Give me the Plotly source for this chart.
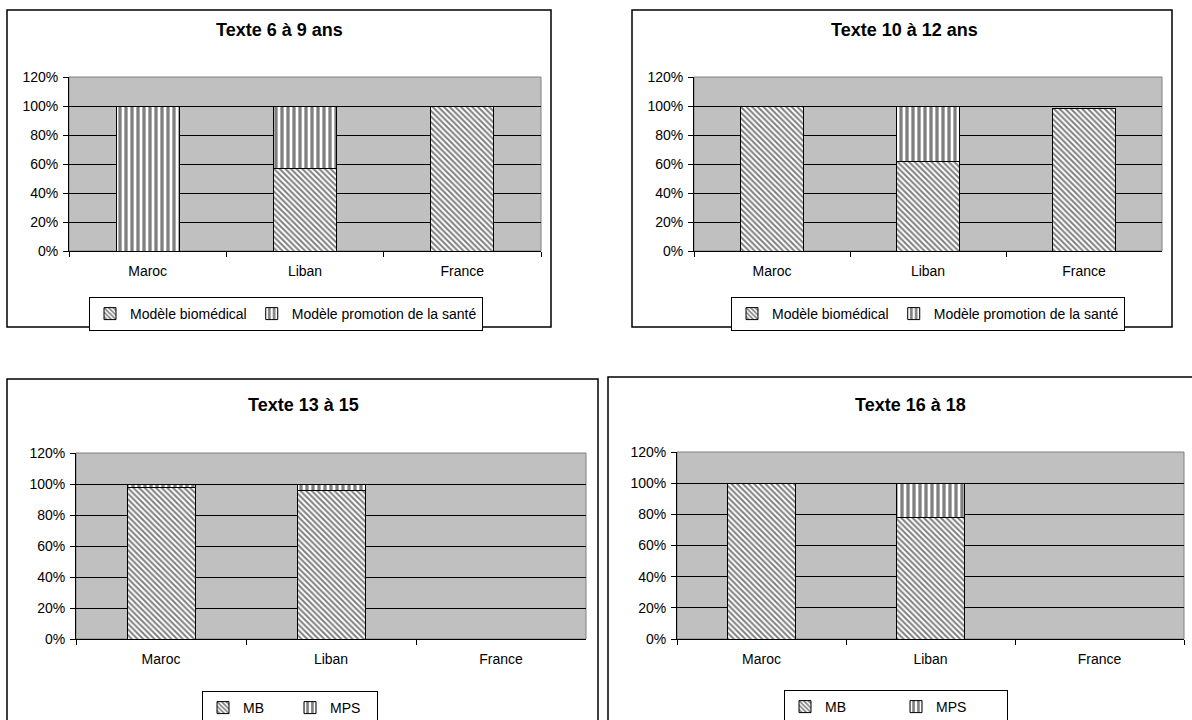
import plotly.graph_objects as go

# ---------------- data ----------------
categories = ["Maroc", "Liban", "France"]

titles = ["Texte 6 à 9 ans", "Texte 10 à 12 ans", "Texte 13 à 15", "Texte 16 à 18"]

mb_1 = [0.0, 0.57, 1.00]
mps_1 = [1.00, 0.43, 0.0]

mb_2 = [1.00, 0.62, 0.98]
mps_2 = [0.0, 0.38, 0.0]

mb_3 = [0.98, 0.96, None]
mps_3 = [0.02, 0.04, None]

mb_4 = [1.00, 0.78, None]
mps_4 = [0.0, 0.22, None]

names_long = ["Modèle biomédical", "Modèle promotion de la santé"]
names_short = ["MB", "MPS"]

y_ticks = [0, 0.2, 0.4, 0.6, 0.8, 1.0, 1.2]

# ---------------- layout geometry (pixels) ----------------
W, H = 1192, 720
FONT = "Liberation Sans, Arial, sans-serif"

panels = [
    dict(plot=(69, 541, 77, 251), box=(7, 551, 10, 327), title_xy=(279, 30),
         legend_xy=(286, 297), mb=mb_1, mps=mps_1, names=names_long, entry=None),
    dict(plot=(694, 1162, 77, 251), box=(632, 1172, 10, 327), title_xy=(904, 30),
         legend_xy=(928, 297), mb=mb_2, mps=mps_2, names=names_long, entry=None),
    dict(plot=(76, 586, 453, 639), box=(7, 598, 379, 730), title_xy=(303, 405),
         legend_xy=(290, 691), mb=mb_3, mps=mps_3, names=names_short, entry=42),
    dict(plot=(677, 1184, 452, 639), box=(608, 1200, 377, 730), title_xy=(910, 405),
         legend_xy=(896, 690), mb=mb_4, mps=mps_4, names=names_short, entry=66),
]


def px(x):
    return x / W


def py(y):
    return 1 - y / H


fig = go.Figure()
shapes = []
annotations = []
layout_extra = {}

for i, p in enumerate(panels):
    n = i + 1
    xa = "x" if n == 1 else f"x{n}"
    ya = "y" if n == 1 else f"y{n}"
    lg = "legend" if n == 1 else f"legend{n}"

    fig.add_trace(go.Bar(
        x=categories, y=p["mb"], name=p["names"][0],
        xaxis=xa, yaxis=ya, legend=lg,
        marker=dict(color="white", line=dict(color="black", width=1),
                    pattern=dict(shape="\\", fgcolor="black", bgcolor="white",
                                 size=4, solidity=0.5)),
        hoverinfo="skip",
    ))
    fig.add_trace(go.Bar(
        x=categories, y=p["mps"], name=p["names"][1],
        xaxis=xa, yaxis=ya, legend=lg,
        marker=dict(color="white", line=dict(color="black", width=1),
                    pattern=dict(shape="|", fgcolor="black", bgcolor="white",
                                 size=6, solidity=0.55)),
        hoverinfo="skip",
    ))

    x0, x1, y0, y1 = p["plot"]
    xkey = "xaxis" if n == 1 else f"xaxis{n}"
    ykey = "yaxis" if n == 1 else f"yaxis{n}"
    layout_extra[xkey] = dict(
        domain=[px(x0), px(x1)], anchor=ya, type="category",
        categoryorder="array", categoryarray=categories,
        range=[-0.5, 2.5], showgrid=False, showline=True, linecolor="black",
        linewidth=1, ticks="outside", tickson="boundaries", ticklen=5,
        tickcolor="black", tickfont=dict(family=FONT, size=14, color="black"),
        ticklabelstandoff=7, fixedrange=True, automargin=False,
    )
    layout_extra[ykey] = dict(
        domain=[py(y1), py(y0)], anchor=xa, range=[0, 1.2],
        tickvals=y_ticks, tickformat=".0%", showgrid=True, gridcolor="black",
        gridwidth=1, zeroline=False, showline=True, linecolor="black",
        linewidth=1, ticks="outside", ticklen=5, tickcolor="black",
        tickfont=dict(family=FONT, size=14, color="black"), fixedrange=True,
        ticklabelstandoff=2, automargin=False,
    )
    lx, ly = p["legend_xy"]
    leg = dict(
        x=px(lx), y=py(ly), xanchor="center", yanchor="top", orientation="h",
        bordercolor="black", borderwidth=1, bgcolor="white",
        font=dict(family=FONT, size=14, color="black"), traceorder="normal",
        itemwidth=30, tracegroupgap=0, itemclick=False, itemdoubleclick=False,
    )
    if p["entry"]:
        leg["entrywidth"] = p["entry"]
        leg["entrywidthmode"] = "pixels"
    layout_extra[lg] = leg

    # gray border of plot area (top/right)
    shapes.append(dict(type="rect", xref=f"{xa} domain", yref=f"{ya} domain",
                       x0=0, x1=1, y0=0, y1=1, line=dict(color="#808080", width=1),
                       layer="below"))
    # outer chart border
    bx0, bx1, by0, by1 = p["box"]
    shapes.append(dict(type="rect", xref="paper", yref="paper",
                       x0=px(bx0), x1=px(bx1), y0=py(by1), y1=py(by0),
                       line=dict(color="black", width=1.5), layer="below"))
    tx, ty = p["title_xy"]
    annotations.append(dict(text=f"<b>{titles[i]}</b>", xref="paper", yref="paper",
                            x=px(tx), y=py(ty), xanchor="center", yanchor="middle",
                            showarrow=False,
                            font=dict(family=FONT, size=18, color="black")))

fig.update_layout(
    width=W, height=H, autosize=False,
    margin=dict(l=0, r=0, t=0, b=0, pad=0, autoexpand=False),
    paper_bgcolor="white", plot_bgcolor="#C0C0C0",
    barmode="stack", bargap=0.6,
    showlegend=True,
    shapes=shapes, annotations=annotations,
    font=dict(family=FONT, size=14, color="black"),
    **layout_extra,
)

fig.write_html("out.html", config={"displayModeBar": False},
               post_script="document.body.style.margin='0px';document.body.style.overflow='hidden';")
